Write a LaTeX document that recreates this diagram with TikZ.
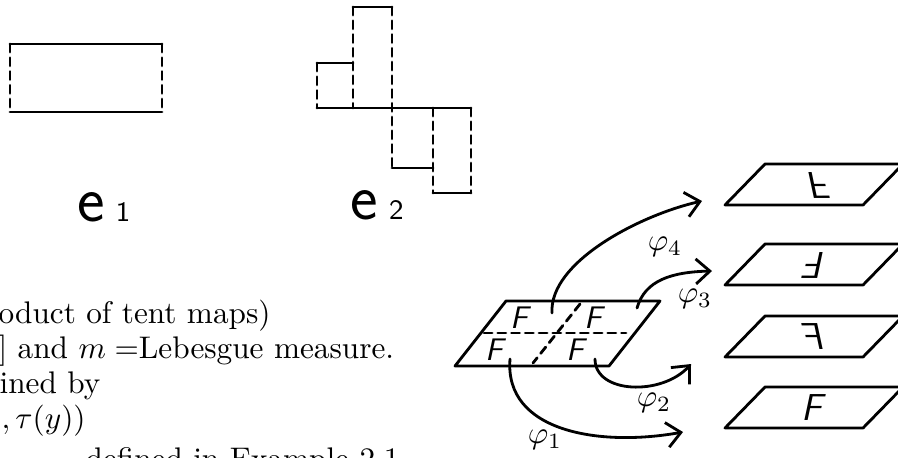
\documentclass[tikz,border=0pt]{standalone}
\usepackage{amsmath,amssymb}
\usepackage{tikz}
\usetikzlibrary{arrows.meta}

\begin{document}
\begin{tikzpicture}[x=0.32pt, y=-0.32pt, >={Straight Barb[length=4.5pt,width=8pt]},
  sketch/.style={line width=0.9pt, line cap=round, line join=round},
  dashside/.style={sketch, dash pattern=on 2.6pt off 1.8pt},
  maparrow/.style={sketch, ->},
  letter/.style={font=\large\sffamily\slshape, inner sep=0pt},
  hand/.style={font=\fontsize{21}{25}\selectfont\sffamily, inner sep=0pt},
  textline/.style={anchor=base west, inner sep=0pt}]

  \useasboundingbox (0,0) rectangle (898,457);
  \clip (0,0) rectangle (898,457);

  % e_1
  \draw[sketch] (10,44) -- (162,44) (10,112) -- (162,112);
  \draw[dashside] (10,44) -- (10,112) (162,44) -- (162,112);
  \node[hand, anchor=base west] (e1) at (77,221) {e\,{\fontsize{9}{10}\selectfont 1}};

  % e_2
  \draw[sketch] (317,108) -- (471,108);
  \draw[sketch] (317,63) -- (353,63) (353,7) -- (392,7)
    (392,168) -- (433,168) (433,193) -- (471,193);
  \draw[dashside] (317,63) -- (317,108) (353,7) -- (353,108) (392,7) -- (392,168)
    (433,108) -- (433,193) (471,108) -- (471,193);
  \node[hand, anchor=base west] (e2) at (350,219) {e\,{\fontsize{9}{10}\selectfont 2}};

  % text
  \node[textline] (ln1) at (-2,323) {oduct of tent maps)};
  \node[textline] (ln2) at (-2,358) {] and $m=$Lebesgue measure.};
  \node[textline] (ln3) at (-1,393) {ined by};
  \node[textline] (ln4) at (1,428) {$,\tau(y))$};
  \node[textline] (ln5) at (85,469) {defined in Example 2.1};

  % square cut in four
  \draw[sketch] (455,366) -- (609,366) -- (660,301) -- (506,301) -- cycle;
  \draw[dashside] (484,333) -- (626,333);
  \draw[dashside] (580,304) -- (533,363);
  \node[letter, font=\normalsize\sffamily\slshape] (ftl) at (519,318) {F};
  \node[letter, font=\normalsize\sffamily\slshape] (ftr) at (593,318) {F};
  \node[letter, font=\normalsize\sffamily\slshape] (fbl) at (494,350) {F};
  \node[letter, font=\normalsize\sffamily\slshape] (fbr) at (575,350) {F};

  % images
  \draw[sketch] (725,205) -- (863,205) -- (903,164) -- (765,164) -- cycle;
  \node[letter, yscale=-1] (im4) at (816,185) {F};
  \draw[sketch] (725,285) -- (863,285) -- (903,244) -- (765,244) -- cycle;
  \node[letter, rotate=180] (im3) at (816,265) {F};
  \draw[sketch] (725,357) -- (863,357) -- (903,316) -- (765,316) -- cycle;
  \node[letter, xscale=-1] (im2) at (816,337) {F};
  \draw[sketch] (725,428) -- (863,428) -- (903,387) -- (765,387) -- cycle;
  \node[letter] (im1) at (812,408) {F};

  % maps
  \coordinate (s4) at (552,313);
  \coordinate (t4) at (702,201);
  \coordinate (s3) at (637,308);
  \coordinate (t3) at (712,271);
  \coordinate (s2) at (595,359);
  \coordinate (t2) at (691,364);
  \coordinate (s1) at (510,359);
  \coordinate (t1) at (683,432);
  \draw[maparrow] (s4) .. controls (549,262) and (640,215) .. (t4);
  \draw[maparrow] (s3) .. controls (645,280) and (672,272) .. (t3);
  \draw[maparrow] (s2) .. controls (595,394) and (662,396) .. (t2);
  \draw[maparrow] (s1) .. controls (504,432) and (600,447) .. (t1);
  \node (p4) at (665,247) {$\varphi_4$};
  \node (p3) at (695,299) {$\varphi_3$};
  \node (p2) at (654,403) {$\varphi_2$};
  \node (p1) at (545,440) {$\varphi_1$};

\end{tikzpicture}
\end{document}
